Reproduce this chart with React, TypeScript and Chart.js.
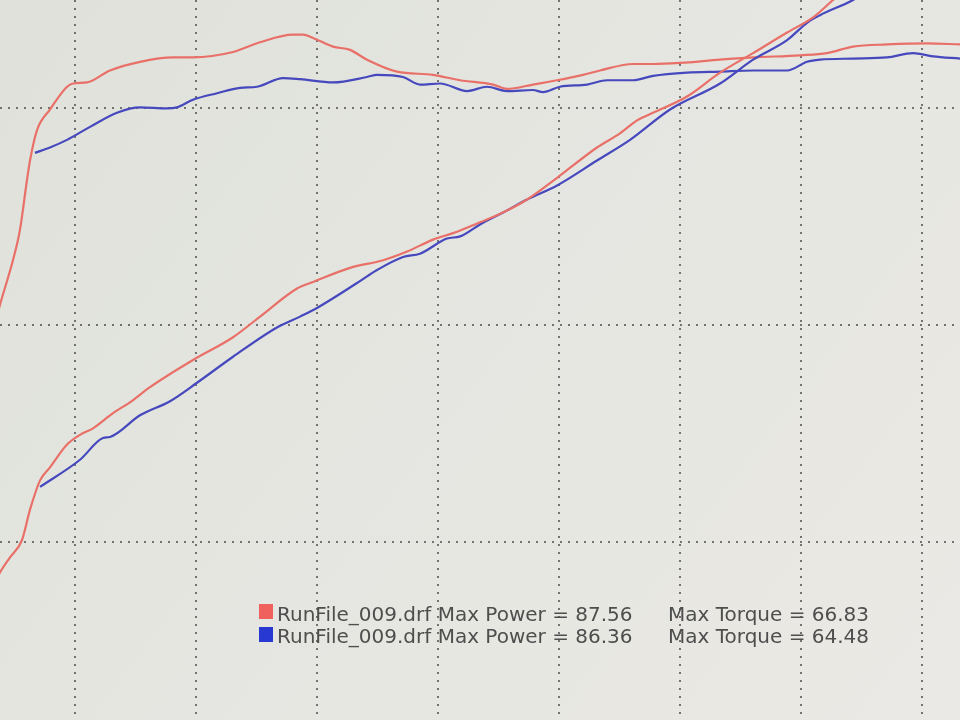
import { useEffect, useRef } from "react";
import Chart from "chart.js/auto";

// Axis ranges / grid ticks (engine speed in rpm, power & torque values)
const rpmRange = [1380, 9314];
const valueRange = [3.6, 70];
const rpmTicks = [2000, 3000, 4000, 5000, 6000, 7000, 8000, 9000];
const valueTicks = [20, 40, 60];

// Run 1 (red) torque
const redTorqueRpm = [1340, 1380, 1487, 1545, 1603, 1628, 1686, 1793, 1934, 1983, 2099, 2289, 2537, 2810, 2975, 3306, 3529, 3802, 3884, 3967, 4132, 4273, 4413, 4661, 4959, 5182, 5455, 5570, 5785, 5984, 6198, 6339, 6612, 6777, 7000, 7331, 7604, 7992, 8215, 8430, 8711, 9042, 9314];
const redTorque = [40.2, 41.9, 46.0, 48.8, 53.4, 55.2, 58.0, 59.9, 62.0, 62.3, 62.4, 63.5, 64.3, 64.7, 64.7, 65.2, 66.1, 66.8, 66.8, 66.5, 65.7, 65.4, 64.5, 63.4, 63.1, 62.6, 62.2, 61.8, 62.2, 62.6, 63.1, 63.5, 64.1, 64.1, 64.2, 64.5, 64.7, 64.9, 65.1, 65.7, 65.9, 66.0, 65.9];

// Run 2 (blue) torque
const blueTorqueRpm = [1669, 1793, 1934, 2124, 2347, 2537, 2760, 2843, 2975, 3174, 3364, 3504, 3719, 3860, 4132, 4413, 4496, 4711, 4851, 5017, 5240, 5405, 5570, 5785, 5868, 6008, 6232, 6397, 6612, 6777, 7058, 7331, 7604, 7885, 8050, 8157, 8430, 8711, 8926, 9091, 9314];
const blueTorque = [55.9, 56.4, 57.1, 58.3, 59.6, 60.1, 60.0, 60.1, 60.8, 61.4, 61.9, 62.0, 62.8, 62.7, 62.4, 62.9, 63.1, 62.9, 62.2, 62.3, 61.6, 62.0, 61.6, 61.7, 61.5, 62.0, 62.2, 62.6, 62.6, 63.0, 63.3, 63.4, 63.5, 63.5, 64.3, 64.5, 64.6, 64.7, 65.1, 64.8, 64.6];

// Run 1 (red) power
const redPowerRpm = [1340, 1380, 1463, 1562, 1628, 1711, 1793, 1934, 2041, 2149, 2314, 2454, 2620, 2975, 3306, 3529, 3835, 3967, 4273, 4546, 4744, 4959, 5124, 5347, 5537, 5736, 5984, 6314, 6504, 6645, 6777, 7058, 7331, 7604, 7885, 8100, 8265, 8330];
const redPower = [16.3, 17.2, 18.6, 20.2, 23.0, 25.7, 26.9, 29.0, 29.9, 30.5, 31.9, 32.9, 34.3, 36.8, 38.9, 40.8, 43.4, 44.0, 45.3, 46.0, 46.8, 47.9, 48.5, 49.5, 50.4, 51.6, 53.6, 56.4, 57.7, 58.9, 59.6, 61.1, 63.3, 65.1, 67.0, 68.4, 70.0, 70.6];

// Run 2 (blue) power
const bluePowerRpm = [1711, 2041, 2231, 2289, 2537, 2785, 3008, 3306, 3669, 3860, 4000, 4331, 4496, 4711, 4851, 5074, 5182, 5347, 5537, 5736, 5984, 6314, 6587, 6918, 7331, 7604, 7885, 8050, 8157, 8430, 8500];
const bluePower = [25.1, 27.6, 29.6, 29.7, 31.7, 33.0, 34.7, 37.1, 39.8, 40.8, 41.6, 43.9, 45.1, 46.3, 46.6, 48.0, 48.2, 49.3, 50.4, 51.6, 52.9, 55.2, 57.1, 59.9, 62.3, 64.5, 66.3, 67.9, 68.6, 70.0, 70.5];

// Legend
const legendFiles = ["RunFile_009.drf", "RunFile_009.drf"];
const legendMaxPower = ["87.56", "86.36"];
const legendMaxTorque = ["66.83", "64.48"];
const runColors = ["rgb(233,112,104)", "rgb(70,72,190)"];
const legendSwatch = ["rgb(240,96,92)", "rgb(40,56,210)"];

const toPoints = (xs: number[], ys: number[]) => xs.map((x, i) => ({ x, y: ys[i] }));

const bgPlugin = {
  id: "bgGradient",
  beforeDraw(chart: any) {
    const { ctx, width, height } = chart;
    ctx.save();
    const g = ctx.createLinearGradient(0, 0, width, height);
    g.addColorStop(0, "#dfe1da");
    g.addColorStop(0.5, "#e5e6e1");
    g.addColorStop(1, "#ebe9e5");
    ctx.fillStyle = g;
    ctx.fillRect(0, 0, width, height);
    ctx.restore();
  },
};

export default function App() {
  const ref = useRef<HTMLCanvasElement | null>(null);

  useEffect(() => {
    document.body.style.margin = "0";
    if (!ref.current) return;
    const line = (data: any, color: string) => ({
      data,
      borderColor: color,
      backgroundColor: color,
      borderWidth: 2.2,
      pointRadius: 0,
      tension: 0.3,
      cubicInterpolationMode: "monotone" as const,
      fill: false,
    });
    const gridCommon = {
      color: "rgba(85,85,85,0.8)",
      lineWidth: 2,
      drawTicks: false,
    };
    const chart = new Chart(ref.current, {
      type: "line",
      data: {
        datasets: [
          { label: "Power 1", ...line(toPoints(redPowerRpm, redPower), runColors[0]) },
          { label: "Power 2", ...line(toPoints(bluePowerRpm, bluePower), runColors[1]) },
          { label: "Torque 1", ...line(toPoints(redTorqueRpm, redTorque), runColors[0]) },
          { label: "Torque 2", ...line(toPoints(blueTorqueRpm, blueTorque), runColors[1]) },
        ],
      },
      options: {
        animation: false,
        responsive: false,
        layout: { padding: 0 },
        plugins: { legend: { display: false }, tooltip: { enabled: false } },
        scales: {
          x: {
            type: "linear",
            min: rpmRange[0],
            max: rpmRange[1],
            ticks: { display: false },
            grid: gridCommon,
            border: { display: false, dash: [2, 6] },
            afterBuildTicks: (axis: any) => {
              axis.ticks = rpmTicks.map((v) => ({ value: v }));
            },
          },
          y: {
            type: "linear",
            min: valueRange[0],
            max: valueRange[1],
            ticks: { display: false },
            grid: gridCommon,
            border: { display: false, dash: [2, 6] },
            afterBuildTicks: (axis: any) => {
              axis.ticks = valueTicks.map((v) => ({ value: v }));
            },
          },
        },
      },
      plugins: [bgPlugin],
    });
    return () => chart.destroy();
  }, []);

  const textStyle: any = {
    position: "absolute",
    fontFamily: "'DejaVu Sans', Verdana, sans-serif",
    fontSize: "20px",
    lineHeight: "20px",
    color: "#4e4e4e",
    whiteSpace: "pre",
  };

  return (
    <div style={{ position: "fixed", left: 0, top: 0, width: 960, height: 720, overflow: "hidden" }}>
      <canvas ref={ref} width={960} height={720} style={{ display: "block" }} />
      {legendFiles.map((f, i) => (
        <div key={i}>
          <div
            style={{
              position: "absolute",
              left: 259,
              top: 604 + i * 23,
              width: 14,
              height: 15,
              background: legendSwatch[i],
            }}
          />
          <div style={{ ...textStyle, left: 277, top: 604 + i * 22 }}>
            {`${f} Max Power = ${legendMaxPower[i]}`}
          </div>
          <div style={{ ...textStyle, left: 668, top: 604 + i * 22 }}>
            {`Max Torque = ${legendMaxTorque[i]}`}
          </div>
        </div>
      ))}
    </div>
  );
}
